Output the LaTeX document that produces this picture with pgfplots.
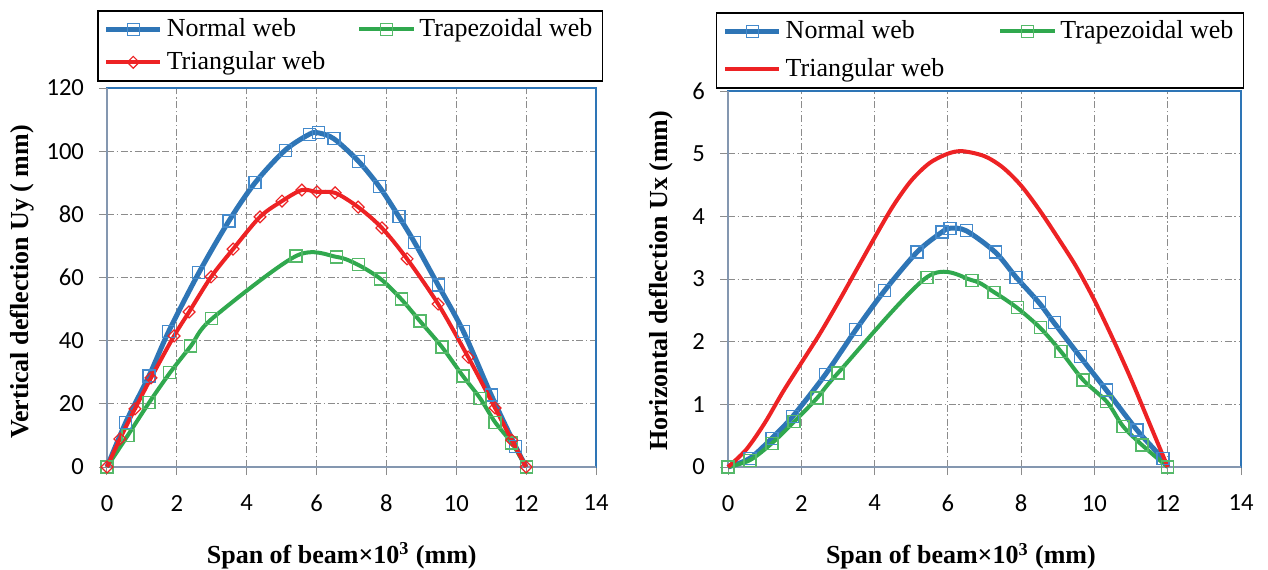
\documentclass[border=0pt]{standalone}
\usepackage{fontspec}
\setmainfont{Liberation Serif}
\newfontfamily\carlito{Carlito}
\usepackage{pgfplots}
\pgfplotsset{compat=1.18}

\definecolor{nblue}{RGB}{46,117,182}
\definecolor{nblueM}{RGB}{68,138,204}
\definecolor{tgreen}{RGB}{48,168,78}
\definecolor{tgreenM}{RGB}{85,185,105}
\definecolor{tred}{RGB}{237,34,36}
\definecolor{gridgray}{RGB}{140,140,140}
\definecolor{axisgray}{RGB}{132,151,176}
\definecolor{boxblue}{RGB}{46,117,182}

\pgfplotsset{
  defl/.style={
    scale only axis,
    clip=false,
    xmin=0, xmax=14, xtick={0,2,...,14},
    grid=major,
    major grid style={gridgray, line width=0.5pt, dash pattern=on 3.5pt off 1.3pt on 0.8pt off 1.3pt},
    tick align=outside, major tick length=4pt,
    tick style={gridgray, line width=0.5pt},
    xtick pos=bottom, ytick pos=left,
    axis line style={draw=boxblue, line width=0.6pt},
    tick label style={font=\carlito\fontsize{12.3}{14}\selectfont, black},
    /pgf/number format/assume math mode=true,
    xticklabel style={yshift=-6.5pt},
    yticklabel style={xshift=-4pt},
    label style={font=\bfseries\fontsize{13}{15}\selectfont},
    legend cell align=left,
    legend columns=2,
    legend style={draw=black, line width=0.75pt, anchor=north west,
      font=\fontsize{13}{15}\selectfont},
    legend image code/.code={\draw[#1, mark repeat=2, mark phase=2]
      plot coordinates {(0pt,0pt) (13.5pt,0pt) (27pt,0pt)};},
  },
  nw/.style={nblue, line width=2.5pt, smooth, mark=square,
    mark size=3pt, mark options={nblueM, line width=0.6pt, solid}},
  tw/.style={tgreen, line width=2pt, smooth, mark=square,
    mark size=3pt, mark options={tgreenM, line width=0.6pt, solid}},
  rw/.style={tred, line width=2pt, smooth, mark=square,
    mark size=2.1pt, mark options={tred, line width=0.6pt, rotate=45, solid}},
}

\begin{document}
\begin{tikzpicture}
\useasboundingbox (-53.5pt,-51pt) rectangle (580.5pt,233.5pt);

% left: vertical deflection
\begin{axis}[defl,
  width=244.5pt, height=189.5pt,
  ymin=0, ymax=120, ytick={0,20,...,120},
  xlabel={Span of beam×10\textsuperscript{3} (mm)},
  ylabel={Vertical deflection Uy ( mm)},
  xlabel style={at={(axis description cs:0.48,-0.235)}, anchor=center},
  ylabel style={at={(axis description cs:-0.173,0.488)}, anchor=center},
  legend style={at={(axis description cs:-0.0204,1.2058)}, row sep=2pt,
    /tikz/every even column/.append style={column sep=14pt}},
]
\draw[axisgray, line width=0.9pt] (rel axis cs:0,1) -- (rel axis cs:0,0) -- (rel axis cs:1,0);
\addplot[nw] coordinates {(0,0) (0.54,14.2) (1.2,28.8) (1.77,43.0) (2.63,61.5)
  (3.49,77.9) (4.24,90.0) (5.1,100.3) (5.8,105.4) (6.05,105.8) (6.5,103.9)
  (7.2,96.8) (7.8,88.7) (8.36,79.2) (8.8,71.2) (9.48,57.6) (10.2,43.0)
  (11.0,22.8) (11.7,6.5) (12,0)};
\addlegendentry{Normal web}
\addplot[tw] coordinates {(0,0) (0.6,10.1) (1.2,20.3) (1.8,29.8) (2.4,38.3)
  (3.0,46.9) (5.41,66.8) (6.58,66.5) (7.19,64.0) (7.84,59.5) (8.42,53.2)
  (8.96,46.2) (9.59,38.0) (10.19,28.8) (10.68,21.8) (11.11,14.2) (11.59,7.6) (12,0)};
\addlegendentry{Trapezoidal web}
\addplot[rw] coordinates {(0,0) (0.37,8.9) (0.8,18.4) (1.26,28.2) (1.92,41.5)
  (2.35,49.1) (2.98,60.2) (3.61,69.0) (4.38,79.2) (5.01,84.2) (5.58,87.7)
  (6.01,87.1) (6.53,86.8) (7.19,82.3) (7.87,75.7) (8.59,65.9) (9.48,51.6)
  (10.34,34.8) (11.11,18.7) (11.59,8.5) (12,0)};
\addlegendentry{Triangular web}
\end{axis}

% right: horizontal deflection
\begin{axis}[defl,
  at={(310.5pt,0pt)}, anchor=south west,
  width=256.5pt, height=188pt,
  ymin=0, ymax=6, ytick={0,1,...,6},
  xlabel={Span of beam×10\textsuperscript{3} (mm)},
  ylabel={Horizontal deflection Ux (mm)},
  xlabel style={at={(axis description cs:0.454,-0.237)}, anchor=center},
  ylabel style={at={(axis description cs:-0.1296,0.495)}, anchor=center},
  legend style={at={(axis description cs:-0.0234,1.210)}, row sep=4.5pt,
    /tikz/every even column/.append style={column sep=25pt}},
]
\draw[axisgray, line width=0.9pt] (rel axis cs:0,1) -- (rel axis cs:0,0) -- (rel axis cs:1,0);
\addplot[nw] coordinates {(0,0) (0.6,0.14) (1.2,0.46) (1.77,0.81) (2.65,1.47)
  (3.49,2.19) (4.28,2.82) (5.16,3.43) (5.84,3.75) (6.06,3.81) (6.5,3.77)
  (7.29,3.43) (7.86,3.03) (8.49,2.62) (8.9,2.30) (9.61,1.76) (10.32,1.23)
  (11.16,0.59) (11.87,0.13) (12,0)};
\addlegendentry{Normal web}
\addplot[tw] coordinates {(0,0) (0.6,0.11) (1.2,0.38) (1.8,0.72) (2.43,1.10)
  (3.0,1.50) (5.43,3.03) (6.66,2.98) (7.26,2.79) (7.89,2.54) (8.52,2.22)
  (9.09,1.84) (9.69,1.39) (10.34,1.04) (10.78,0.65) (11.30,0.35) (12,0)};
\addlegendentry{Trapezoidal web}
\addplot[tred, line width=2pt, smooth] coordinates {(0,0) (0.5,0.28) (1,0.7)
  (1.5,1.2) (2,1.66) (2.5,2.12) (3,2.62) (3.5,3.14) (4,3.66) (4.5,4.16)
  (5,4.57) (5.5,4.85) (6,5.0) (6.4,5.04) (7,4.96) (7.5,4.78) (8,4.49)
  (8.5,4.1) (9,3.66) (9.5,3.2) (10,2.66) (10.5,2.05) (11,1.4) (11.5,0.7) (12,0)};
\addlegendentry{Triangular web}
\end{axis}
\end{tikzpicture}
\end{document}
